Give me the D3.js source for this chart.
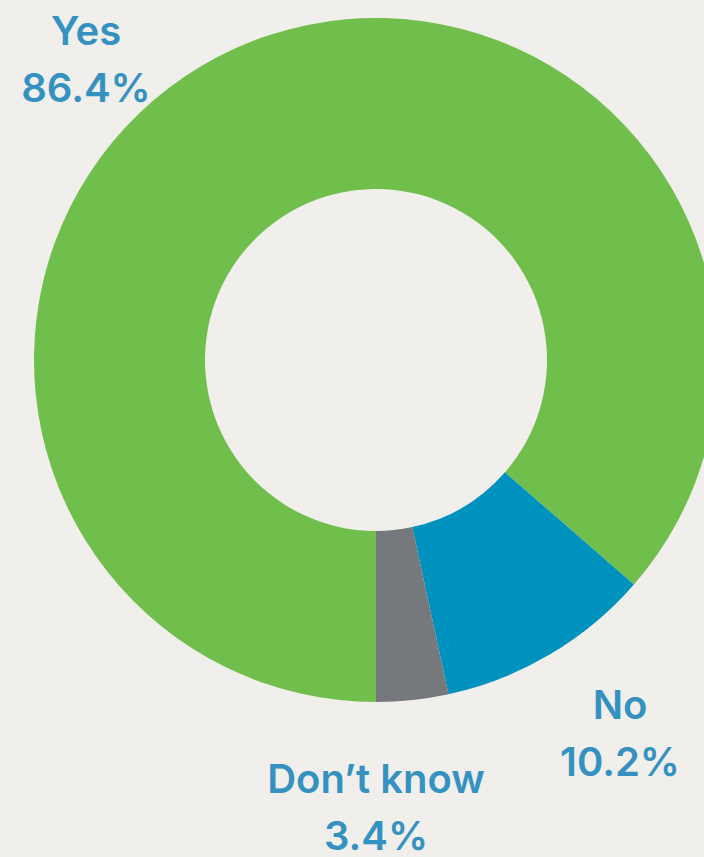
<!DOCTYPE html>
<html><head><meta charset="utf-8">
<script src="https://cdn.jsdelivr.net/npm/d3@7"></script>
<style>html,body{margin:0;padding:0;background:#f0efec;}svg{display:block;}</style>
</head><body>
<svg id="c" width="704" height="857"></svg>
<script>
const categories = ["Yes", "No", "Don\u2019t know"];
const values = [86.4, 10.2, 3.4];
const valueLabels = ["86.4%", "10.2%", "3.4%"];
const colors = ["#70bf4c", "#0092bf", "#75787d"];

const svg = d3.select("#c");
const cx = 376, cy = 360, rOuter = 342, rInner = 171;
const g = svg.append("g").attr("transform", `translate(${cx},${cy})`);
const pie = d3.pie().sort(null).value(d => d.v).startAngle(Math.PI).endAngle(3 * Math.PI);
const data = categories.map((c, i) => ({c, v: values[i], lab: valueLabels[i], col: colors[i]}));
const arcs = pie(data);
const arc = d3.arc().innerRadius(rInner).outerRadius(rOuter);
g.selectAll("path").data(arcs).join("path").attr("d", arc).attr("fill", d => d.data.col);

const labelPos = [{x: 86, y: 45}, {x: 620, y: 719}, {x: 376, y: 793}];
const lab = svg.append("g").attr("font-family", "Inter, 'Open Sans', sans-serif").attr("font-weight", 600)
  .attr("font-size", 40).attr("fill", "#3592c0").attr("text-anchor", "middle");
data.forEach((d, i) => {
  const t = lab.append("text").attr("x", labelPos[i].x).attr("y", labelPos[i].y);
  t.append("tspan").attr("x", labelPos[i].x).text(d.c);
  t.append("tspan").attr("x", labelPos[i].x).attr("dy", 57).text(d.lab);
});
</script>
</body></html>
